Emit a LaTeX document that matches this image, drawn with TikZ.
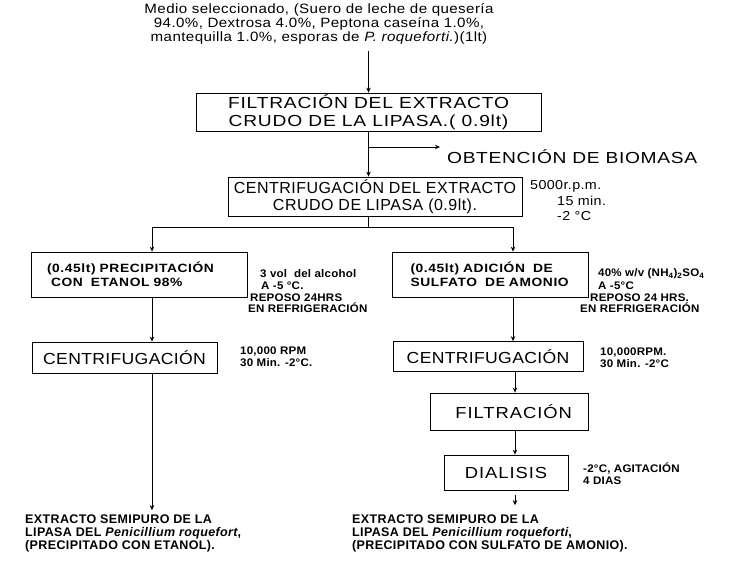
\documentclass[tikz,border=0pt]{standalone}
\usepackage{fontspec}
\setmainfont{Liberation Sans}
\usetikzlibrary{arrows.meta}
\newcommand{\anc}[2]{\addfontfeatures{FakeStretch=#1,LetterSpace=#2}}
\newcommand{\fsz}[2]{\fontsize{#1}{#2}\selectfont}
\begin{document}
\begin{tikzpicture}[x=1pt,y=-1pt]
\tikzstyle{every node}+=[inner sep=0pt]
\tikzstyle{caja}=[draw, line width=0.8pt, align=center]
\tikzstyle{flecha}=[line width=0.8pt, -{Stealth[length=5pt,width=4.5pt]}]
\tikzstyle{linea}=[line width=0.8pt]
\tikzstyle{nota}=[anchor=west, font=\fsz{11}{13}\bfseries\anc{1.05}{2}]
\tikzstyle{cond}=[anchor=west, font=\fsz{13}{15}\anc{1.1}{3}]
\useasboundingbox (0,0) rectangle (730,560);
% medio de cultivo
\node (medio) at (319,24) [align=center, font=\fsz{13.5}{14}\anc{1.12}{3}]
  {Medio seleccionado, (Suero de leche de quesería\\94.0\%, Dextrosa 4.0\%, Peptona caseína 1.0\%,\\mantequilla 1.0\%, esporas de \textit{P. roqueforti.})(1lt)};
\node (filtr) at (368.5,112) [caja, minimum width=345, minimum height=38, font=\fsz{16}{18}\anc{1.2}{5}]
  {FILTRACIÓN DEL EXTRACTO\\CRUDO DE LA LIPASA.( 0.9lt)};
\node (cent) at (375,196.5) [caja, minimum width=294, minimum height=39, font=\fsz{16}{17}\anc{1.0}{3}]
  {CENTRIFUGACIÓN DEL EXTRACTO\\CRUDO DE LIPASA (0.9lt).};
\node (biomasa) at (447,157) [anchor=west, font=\fsz{16}{18}\anc{1.2}{4}] {OBTENCIÓN DE BIOMASA};
\node (rpm) at (530,186) [cond] {5000r.p.m.};
\node (min) at (557,201) [cond] {15 min.};
\node (temp) at (557,216) [cond] {-2 °C};
% rama izquierda: etanol
\node (etanol) at (139,274.5) [caja, align=left, text width=184, inner xsep=16, minimum height=45, font=\fsz{12}{14}\bfseries\anc{1.15}{5}]
  {(0.45lt) PRECIPITACIÓN\\\ CON\ \ ETANOL 98\%};
\node (alcohol) at (260,274) [nota] {3 vol\ \ del alcohol};
\node (a5) at (261,286) [nota] {A -5 °C.};
\node (reposo) at (250,298) [nota] {REPOSO 24HRS};
\node (refri) at (248,308) [nota] {EN REFRIGERACIÓN};
\node (centE) at (124.5,357.5) [caja, minimum width=185, minimum height=31, font=\fsz{16}{18}\anc{1.1}{2}] {CENTRIFUGACIÓN};
\node (rpmE) at (240,352) [nota] {10,000 RPM};
\node (minE) at (240,363) [nota] {30 Min. -2°C.};
\node (finE) at (25,533) [anchor=west, align=left, font=\fsz{12.5}{13}\bfseries\anc{1.0}{3}]
  {EXTRACTO SEMIPURO DE LA\\LIPASA DEL \textit{Penicillium roquefort},\\(PRECIPITADO CON ETANOL).};
% rama derecha: sulfato de amonio
\node (amonio) at (490.5,274.5) [caja, align=left, text width=160, inner xsep=18, minimum height=45, font=\fsz{12}{14}\bfseries\anc{1.15}{5}]
  {(0.45lt) ADICIÓN\ \ DE\\SULFATO\ \ DE AMONIO};
\node (sulf) at (598,274) [nota] {40\% w/v (NH\textsubscript{4})\textsubscript{2}SO\textsubscript{4}};
\node (a5A) at (598,286) [nota] {A -5°C};
\node (reposoA) at (590,298) [nota] {REPOSO 24 HRS.};
\node (refriA) at (580,308) [nota] {EN REFRIGERACIÓN};
\node (centA) at (488,356.5) [caja, minimum width=190, minimum height=30, font=\fsz{16}{18}\anc{1.1}{2}] {CENTRIFUGACIÓN};
\node (rpmA) at (600,353) [nota] {10,000RPM.};
\node (minA) at (600,364) [nota] {30 Min. -2°C};
\node (filtA) at (509,411.5) [caja, minimum width=158, minimum height=37, text width=126, inner xsep=16, align=right, font=\fsz{16}{18}\anc{1.15}{6}] {FILTRACIÓN};
\node (dial) at (506,472.5) [caja, minimum width=124, minimum height=35, font=\fsz{16}{18}\anc{1.15}{6}] {DIALISIS};
\node (agit) at (583,468) [nota] {-2°C, AGITACIÓN};
\node (dias) at (583,481) [nota] {4 DIAS};
\node (finA) at (352,533) [anchor=west, align=left, font=\fsz{12.5}{13}\bfseries\anc{1.0}{3}]
  {EXTRACTO SEMIPURO DE LA\\LIPASA DEL \textit{Penicillium roqueforti},\\(PRECIPITADO CON SULFATO DE AMONIO).};
% conexiones
\coordinate (nudo) at (368.5,227);
\coordinate (rama) at (368.5,147);
\coordinate (izq) at (152,227);
\coordinate (der) at (513,227);
\coordinate (ejeA) at (515,0);
\draw [flecha] ([yshift=-6pt]medio.south -| filtr.north) -- (filtr.north);
\draw [flecha] (filtr.south) -- (filtr.south |- cent.north);
\draw [flecha, shorten >=7pt] (rama) -- (rama -| biomasa.west);
\draw [linea] (nudo |- cent.south) -- (nudo);
\draw [linea] (izq) -- (der);
\draw [flecha] (izq) -- (izq |- etanol.north);
\draw [flecha] (der) -- (der |- amonio.north);
\draw [flecha] (izq |- etanol.south) -- (izq |- centE.north);
\draw [flecha] (izq |- centE.south) -- ([yshift=4pt]izq |- finE.north);
\draw [flecha] (der |- amonio.south) -- (der |- centA.north);
\draw [flecha] (ejeA |- centA.south) -- (ejeA |- filtA.north);
\draw [flecha] (ejeA |- filtA.south) -- (ejeA |- dial.north);
\draw [flecha, shorten <=5pt] (ejeA |- dial.south) -- ([yshift=9pt]ejeA |- finA.north);
\end{tikzpicture}
\end{document}
